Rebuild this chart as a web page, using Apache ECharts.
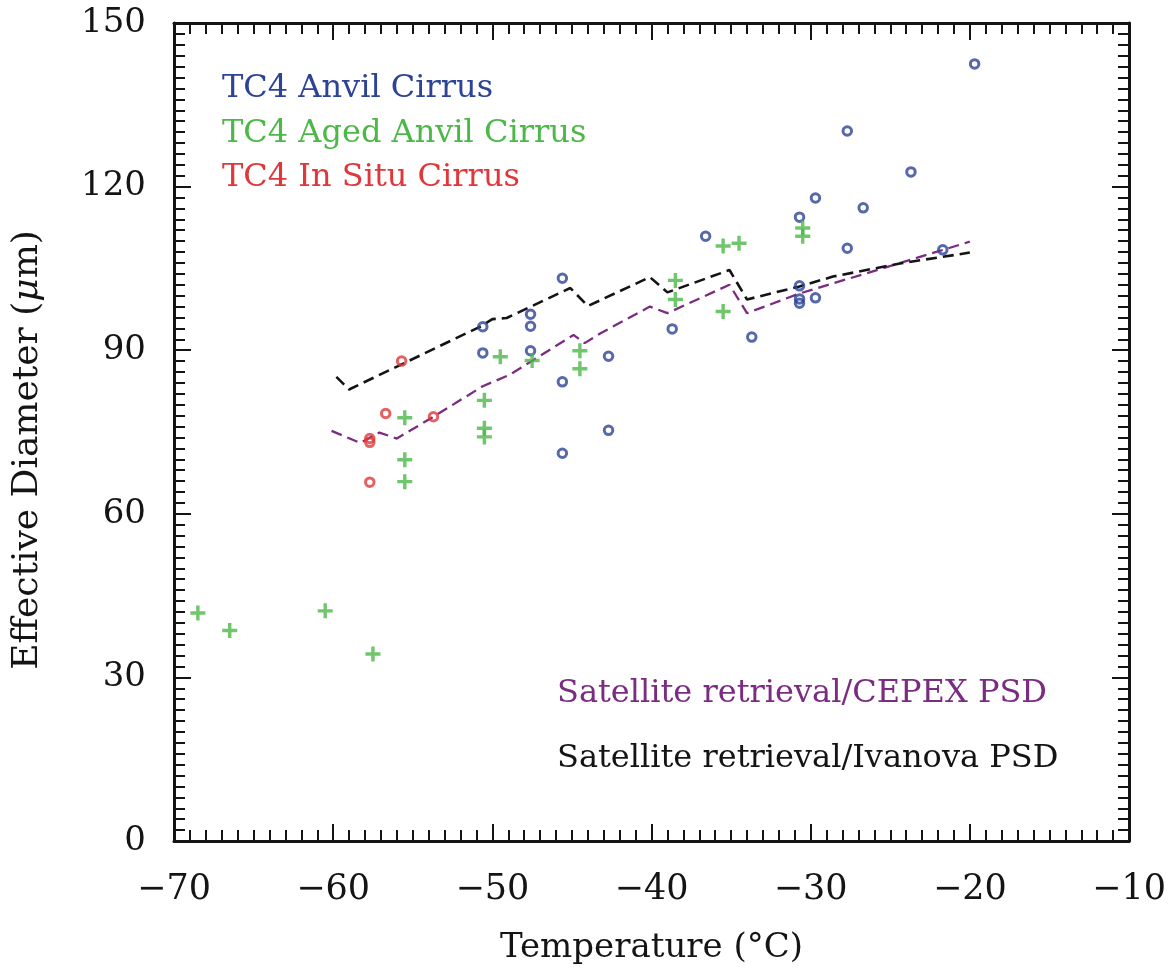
<!DOCTYPE html>
<html><head><meta charset="utf-8">
<script src="https://cdn.jsdelivr.net/npm/echarts@6/dist/echarts.min.js"></script>
<style>html,body{margin:0;padding:0;background:#fff}#c{width:1173px;height:974px}</style>
</head><body><div id="c"></div>
<script>
// ---- data (temperature °C, effective diameter µm) ----
const anvilCirrus = [
  [-50.6, 94.3], [-50.6, 89.5], [-47.6, 96.6], [-47.6, 94.4], [-47.6, 89.9],
  [-45.6, 103.2], [-45.6, 84.2], [-45.6, 71.1], [-42.7, 88.9], [-42.7, 75.3],
  [-38.7, 93.9], [-36.6, 110.9], [-33.7, 92.4], [-30.7, 114.4], [-30.7, 101.8],
  [-30.7, 99.4], [-30.7, 98.6], [-29.7, 117.9], [-29.7, 99.6], [-27.7, 130.2],
  [-27.7, 108.7], [-26.7, 116.1], [-23.7, 122.7], [-21.7, 108.4], [-19.7, 142.5]
];
const agedAnvilCirrus = [
  [-68.5, 41.8], [-66.5, 38.6], [-60.5, 42.2], [-57.5, 34.3],
  [-55.5, 77.6], [-55.5, 69.9], [-55.5, 65.9],
  [-50.5, 80.8], [-50.5, 75.7], [-50.5, 74.1], [-49.5, 88.8], [-47.5, 88.1],
  [-44.5, 89.9], [-44.5, 86.6], [-38.5, 102.8], [-38.5, 99.3],
  [-35.5, 109.1], [-34.5, 109.6], [-35.5, 97.1], [-30.5, 112.4], [-30.5, 110.9]
];
const inSituCirrus = [
  [-55.7, 88.0], [-56.7, 78.4], [-53.7, 77.8], [-57.7, 73.8], [-57.7, 73.1], [-57.7, 65.8]
];
const cepexRetrieval = [
  [-60.1, 75.2], [-58.3, 73.0], [-57.1, 74.9], [-56.0, 73.8], [-53.7, 77.8],
  [-50.6, 83.4], [-48.9, 85.5], [-44.9, 92.8], [-44.2, 91.3], [-43.2, 93.1],
  [-40.1, 98.0], [-39.0, 96.8], [-35.1, 102.0], [-34.0, 96.8], [-30.7, 100.4],
  [-26.5, 104.1], [-20.0, 109.9]
];
const ivanovaRetrieval = [
  [-59.8, 85.1], [-59.0, 82.8], [-50.7, 94.4], [-50.0, 95.7], [-49.1, 95.9],
  [-45.1, 101.4], [-44.0, 98.1], [-40.1, 103.4], [-39.0, 100.6], [-35.1, 104.7],
  [-34.0, 99.3], [-30.7, 101.7], [-28.6, 103.5], [-24.4, 105.9], [-20.0, 107.9]
];
const legendLabels = ['TC4 Anvil Cirrus', 'TC4 Aged Anvil Cirrus', 'TC4 In Situ Cirrus',
  'Satellite retrieval/CEPEX PSD', 'Satellite retrieval/Ivanova PSD'];

// ---- styling ----
const FONT = 'DejaVu Serif';
const INK = '#141414';
const BLUE = '#2d4496', GREEN = '#4cb848', RED = '#e0373a', PURPLE = '#7b2c82';
const fmt = v => v < 0 ? '\u2212' + Math.abs(v) : String(v);
const CROSS = 'path://M5.4,0H8.6V5.4H14V8.6H8.6V14H5.4V8.6H0V5.4H5.4Z';

function axisCommon(showLabel) {
  return {
    axisLine: {show: true, onZero: false, lineStyle: {color: INK, width: 3}},
    axisTick: {show: true, inside: true, length: 17, lineStyle: {color: INK, width: 2}},
    minorTick: {show: true, length: 11, lineStyle: {color: INK, width: 2}},
    splitLine: {show: false}, minorSplitLine: {show: false},
    axisLabel: {show: showLabel, fontFamily: FONT, fontSize: 35, color: INK, formatter: fmt}
  };
}
function merge(a, b) { const o = Object.assign({}, a, b);
  for (const k of Object.keys(b)) if (a[k] && typeof a[k] === 'object' && !Array.isArray(a[k]) && typeof b[k] === 'object') o[k] = Object.assign({}, a[k], b[k]);
  return o; }

const xBase = {type: 'value', min: -70, max: -10, interval: 10};
const yBase = {type: 'value', min: 0, max: 150, interval: 30};

const chart = echarts.init(document.getElementById('c'), null, {renderer: 'canvas'});
chart.setOption({
  animation: false,
  backgroundColor: '#fff',
  grid: {left: 174, right: 44, top: 23, bottom: 133, containLabel: false, outerBoundsMode: 'none'},
  xAxis: [
    merge(merge(xBase, axisCommon(true)), {position: 'bottom',
      minorTick: {splitNumber: 10}, axisLabel: {margin: 31},
      name: 'Temperature (\u00B0C)', nameLocation: 'middle', nameGap: 90,
      nameTextStyle: {fontFamily: FONT, fontSize: 34, color: INK}}),
    merge(merge(xBase, axisCommon(false)), {position: 'top', minorTick: {splitNumber: 10}})
  ],
  yAxis: [
    merge(merge(yBase, axisCommon(true)), {position: 'left',
      minorTick: {splitNumber: 15}, axisLabel: {margin: 28, fontSize: 34},
      name: '{a|Effective Diameter (}{i|\u03BC}{a|m)}', nameLocation: 'middle', nameGap: 128,
      nameTextStyle: {padding: [0, 36, 0, 0], rich: {
        a: {fontFamily: FONT, fontSize: 36, color: INK},
        i: {fontFamily: FONT, fontSize: 36, color: INK, fontStyle: 'italic'}}}}),
    merge(merge(yBase, axisCommon(false)), {position: 'right', minorTick: {splitNumber: 15}})
  ],
  series: [
    {name: legendLabels[3], type: 'line', data: cepexRetrieval, symbol: 'none', z: 2,
      lineStyle: {color: PURPLE, width: 2.3, type: [11, 6]}},
    {name: legendLabels[4], type: 'line', data: ivanovaRetrieval, symbol: 'none', z: 2,
      lineStyle: {color: INK, width: 2.6, type: [11, 6]}},
    {name: legendLabels[0], type: 'scatter', data: anvilCirrus, symbol: 'circle', symbolSize: 8.5, z: 3,
      itemStyle: {color: 'rgba(0,0,0,0)', borderColor: BLUE, borderWidth: 3}},
    {name: legendLabels[1], type: 'scatter', data: agedAnvilCirrus, symbol: CROSS, symbolSize: 15, z: 3,
      itemStyle: {color: GREEN}},
    {name: legendLabels[2], type: 'scatter', data: inSituCirrus, symbol: 'circle', symbolSize: 8.5, z: 3,
      itemStyle: {color: 'rgba(0,0,0,0)', borderColor: RED, borderWidth: 3}}
  ],
  graphic: [
    {type: 'text', x: 222, y: 89, style: {text: legendLabels[0], fill: BLUE, font: '32px "DejaVu Serif"', verticalAlign: 'middle'}},
    {type: 'text', x: 222, y: 134, style: {text: legendLabels[1], fill: GREEN, font: '32px "DejaVu Serif"', verticalAlign: 'middle'}},
    {type: 'text', x: 222, y: 178, style: {text: legendLabels[2], fill: RED, font: '32px "DejaVu Serif"', verticalAlign: 'middle'}},
    {type: 'text', x: 557, y: 694, style: {text: legendLabels[3], fill: PURPLE, font: '32px "DejaVu Serif"', verticalAlign: 'middle'}},
    {type: 'text', x: 557, y: 759, style: {text: legendLabels[4], fill: INK, font: '32px "DejaVu Serif"', verticalAlign: 'middle'}}
  ]
});
</script>
</body></html>
